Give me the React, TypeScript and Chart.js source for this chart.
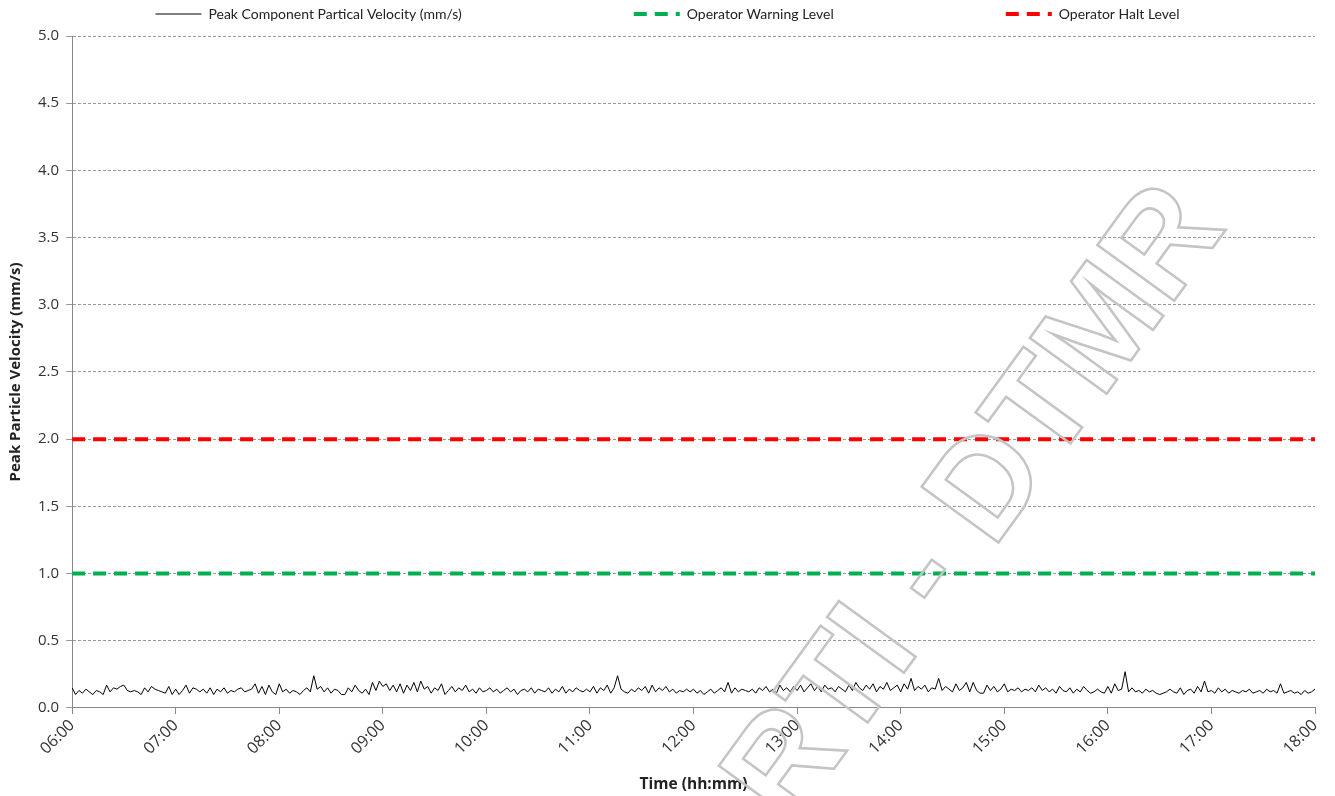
import React, { useEffect, useRef } from "react";
import { Chart, registerables } from "chart.js";

Chart.register(...registerables);

const stepMinutes = 2;
const xTickLabels = ["06:00","07:00","08:00","09:00","10:00","11:00","12:00","13:00","14:00","15:00","16:00","17:00","18:00"];
const yTickLabels = ["0.0","0.5","1.0","1.5","2.0","2.5","3.0","3.5","4.0","4.5","5.0"];

const h06 = [0.15,0.10,0.13,0.11,0.14,0.12,0.10,0.13,0.12,0.10,0.17,0.12,0.15,0.14,0.16,0.17,0.13,0.12,0.13,0.12,0.10,0.15,0.12,0.16,0.14,0.13,0.12,0.11,0.16,0.10];
const h07 = [0.14,0.10,0.13,0.17,0.11,0.15,0.14,0.12,0.14,0.11,0.15,0.10,0.14,0.12,0.15,0.11,0.13,0.12,0.14,0.15,0.12,0.13,0.14,0.18,0.11,0.16,0.10,0.17,0.12,0.10];
const h08 = [0.18,0.12,0.14,0.11,0.13,0.12,0.10,0.13,0.15,0.12,0.24,0.14,0.16,0.12,0.15,0.11,0.14,0.13,0.10,0.10,0.15,0.12,0.17,0.13,0.11,0.14,0.10,0.19,0.13,0.20];
const h09 = [0.16,0.18,0.13,0.17,0.12,0.18,0.11,0.17,0.13,0.19,0.12,0.20,0.14,0.16,0.11,0.15,0.13,0.18,0.10,0.13,0.16,0.12,0.15,0.13,0.17,0.12,0.14,0.11,0.15,0.12];
const h10 = [0.13,0.15,0.12,0.14,0.11,0.13,0.15,0.12,0.14,0.10,0.13,0.14,0.12,0.15,0.11,0.14,0.13,0.12,0.15,0.11,0.14,0.12,0.16,0.11,0.14,0.12,0.15,0.13,0.12,0.14];
const h11 = [0.12,0.16,0.11,0.15,0.13,0.17,0.11,0.15,0.24,0.14,0.12,0.11,0.14,0.12,0.15,0.13,0.16,0.11,0.17,0.12,0.15,0.13,0.16,0.12,0.14,0.11,0.13,0.12,0.14,0.12];
const h12 = [0.14,0.11,0.13,0.10,0.12,0.14,0.11,0.13,0.15,0.12,0.19,0.11,0.15,0.12,0.14,0.13,0.12,0.14,0.11,0.15,0.13,0.16,0.12,0.14,0.11,0.17,0.13,0.15,0.12,0.16];
const h13 = [0.13,0.17,0.12,0.15,0.18,0.13,0.16,0.12,0.17,0.14,0.15,0.12,0.16,0.14,0.12,0.17,0.13,0.19,0.15,0.13,0.17,0.14,0.18,0.12,0.16,0.14,0.19,0.13,0.15,0.17];
const h14 = [0.12,0.18,0.14,0.22,0.13,0.16,0.14,0.17,0.12,0.15,0.14,0.22,0.13,0.16,0.14,0.12,0.18,0.13,0.15,0.19,0.12,0.19,0.13,0.11,0.11,0.17,0.13,0.16,0.12,0.14];
const h15 = [0.18,0.12,0.14,0.13,0.15,0.12,0.14,0.13,0.15,0.12,0.17,0.13,0.15,0.12,0.14,0.11,0.16,0.13,0.12,0.15,0.11,0.14,0.12,0.16,0.13,0.11,0.12,0.14,0.12,0.11];
const h16 = [0.16,0.11,0.18,0.13,0.14,0.27,0.12,0.15,0.12,0.13,0.11,0.14,0.12,0.13,0.11,0.10,0.11,0.12,0.14,0.12,0.11,0.15,0.10,0.13,0.14,0.11,0.16,0.12,0.20,0.12];
const h17 = [0.13,0.11,0.15,0.12,0.14,0.11,0.13,0.12,0.11,0.13,0.12,0.14,0.11,0.12,0.13,0.11,0.14,0.12,0.13,0.11,0.18,0.11,0.12,0.13,0.11,0.12,0.10,0.13,0.11,0.12];
const h18 = [0.14];

const velocity = [...h06, ...h07, ...h08, ...h09, ...h10, ...h11, ...h12, ...h13, ...h14, ...h15, ...h16, ...h17, ...h18];
const warningLevel = 1.0;
const haltLevel = 2.0;

const seriesNames = ["Peak Component Partical Velocity (mm/s)", "Operator Warning Level", "Operator Halt Level"];
const seriesColors = ["#000000", "#00b050", "#ff0000"];
const levelDash = [13, 8];

const legendPlugin = {
  id: "customLegend",
  afterDraw(chart: any) {
    const ctx = chart.ctx;
    ctx.save();
    ctx.font = "14px Lato";
    const boxW = 46;
    const boxGap = 7;
    const itemGap = 172;
    const widths = seriesNames.map((t) => boxW + boxGap + ctx.measureText(t).width);
    const total = widths.reduce((a, b) => a + b, 0) + itemGap * (seriesNames.length - 1);
    let x = (chart.width - total) / 2;
    const y = 14;
    seriesNames.forEach((t, i) => {
      ctx.beginPath();
      ctx.strokeStyle = seriesColors[i];
      ctx.lineWidth = i === 0 ? 1 : 4;
      ctx.setLineDash(i === 0 ? [] : levelDash);
      ctx.moveTo(x, y);
      ctx.lineTo(x + boxW, y);
      ctx.stroke();
      ctx.setLineDash([]);
      ctx.fillStyle = "#222";
      ctx.textAlign = "left";
      ctx.textBaseline = "middle";
      ctx.fillText(t, x + boxW + boxGap, y);
      x += widths[i] + itemGap;
    });
    ctx.restore();
  },
};

const watermarkPlugin = {
  id: "watermark",
  afterDraw(chart: any) {
    const ctx = chart.ctx;
    ctx.save();
    ctx.translate(978, 506);
    ctx.rotate((-54 * Math.PI) / 180);
    ctx.font = "bold 138px 'Liberation Sans'";
    ctx.textAlign = "center";
    ctx.textBaseline = "middle";
    ctx.strokeStyle = "#c4c4c4";
    ctx.lineWidth = 2.5;
    ctx.strokeText("RTI - DTMR", 0, 0);
    ctx.restore();
  },
};

export default function App() {
  const ref = useRef<HTMLCanvasElement>(null);
  useEffect(() => {
    document.body.style.margin = "0";
    const pts = velocity.map((v, i) => ({ x: i * stepMinutes, y: v }));
    const xEnd = (xTickLabels.length - 1) * 60;
    const chart = new Chart(ref.current!, {
      type: "line",
      data: {
        datasets: [
          {
            label: seriesNames[0],
            data: pts,
            borderColor: seriesColors[0],
            borderWidth: 1,
            pointRadius: 0,
            tension: 0,
          },
          {
            label: seriesNames[1],
            data: [{ x: 0, y: warningLevel }, { x: xEnd, y: warningLevel }],
            borderColor: seriesColors[1],
            borderWidth: 4,
            borderDash: levelDash,
            pointRadius: 0,
          },
          {
            label: seriesNames[2],
            data: [{ x: 0, y: haltLevel }, { x: xEnd, y: haltLevel }],
            borderColor: seriesColors[2],
            borderWidth: 4,
            borderDash: levelDash,
            pointRadius: 0,
          },
        ],
      },
      options: {
        animation: false,
        responsive: false,
        layout: { padding: { left: 7, right: 20, top: 36, bottom: 2 } },
        plugins: {
          tooltip: { enabled: false },
          legend: { display: false },
        },
        scales: {
          x: {
            type: "linear",
            min: 0,
            max: xEnd,
            ticks: {
              stepSize: 60,
              autoSkip: false,
              minRotation: 45,
              maxRotation: 45,
              padding: 2,
              color: "#333",
              font: { family: "'Open Sans'", size: 16 },
              callback: (v: any) => xTickLabels[Math.round(Number(v) / 60)] ?? "",
            },
            grid: { display: true, drawOnChartArea: false, color: "#888", tickLength: 6 },
            border: { color: "#888", width: 1 },
            title: { display: true, text: "Time (hh:mm)", color: "#222", font: { family: "'Open Sans'", size: 15.5, weight: "bold" }, padding: { top: 15, bottom: 0 } },
          },
          y: {
            min: 0,
            max: 5,
            ticks: {
              stepSize: 0.5,
              padding: 7,
              color: "#333",
              font: { family: "'Open Sans'", size: 15 },
              callback: (v: any) => yTickLabels[Math.round(Number(v) * 2)] ?? "",
            },
            grid: { color: "#999", lineWidth: 1, tickLength: 6, tickBorderDash: [] } as any,
            border: { color: "#888", width: 1, dash: [3, 2] } as any,
            title: { display: true, text: "Peak Particle Velocity (mm/s)", color: "#222", font: { family: "'Open Sans'", size: 15, weight: "bold" }, padding: { top: 0, bottom: 6 } },
          },
        },
      },
      plugins: [legendPlugin, watermarkPlugin],
    });
    return () => chart.destroy();
  }, []);
  return (
    <div style={{ width: 1335, height: 796 }}>
      <canvas ref={ref} width={1335} height={796} style={{ display: "block" }} />
    </div>
  );
}
